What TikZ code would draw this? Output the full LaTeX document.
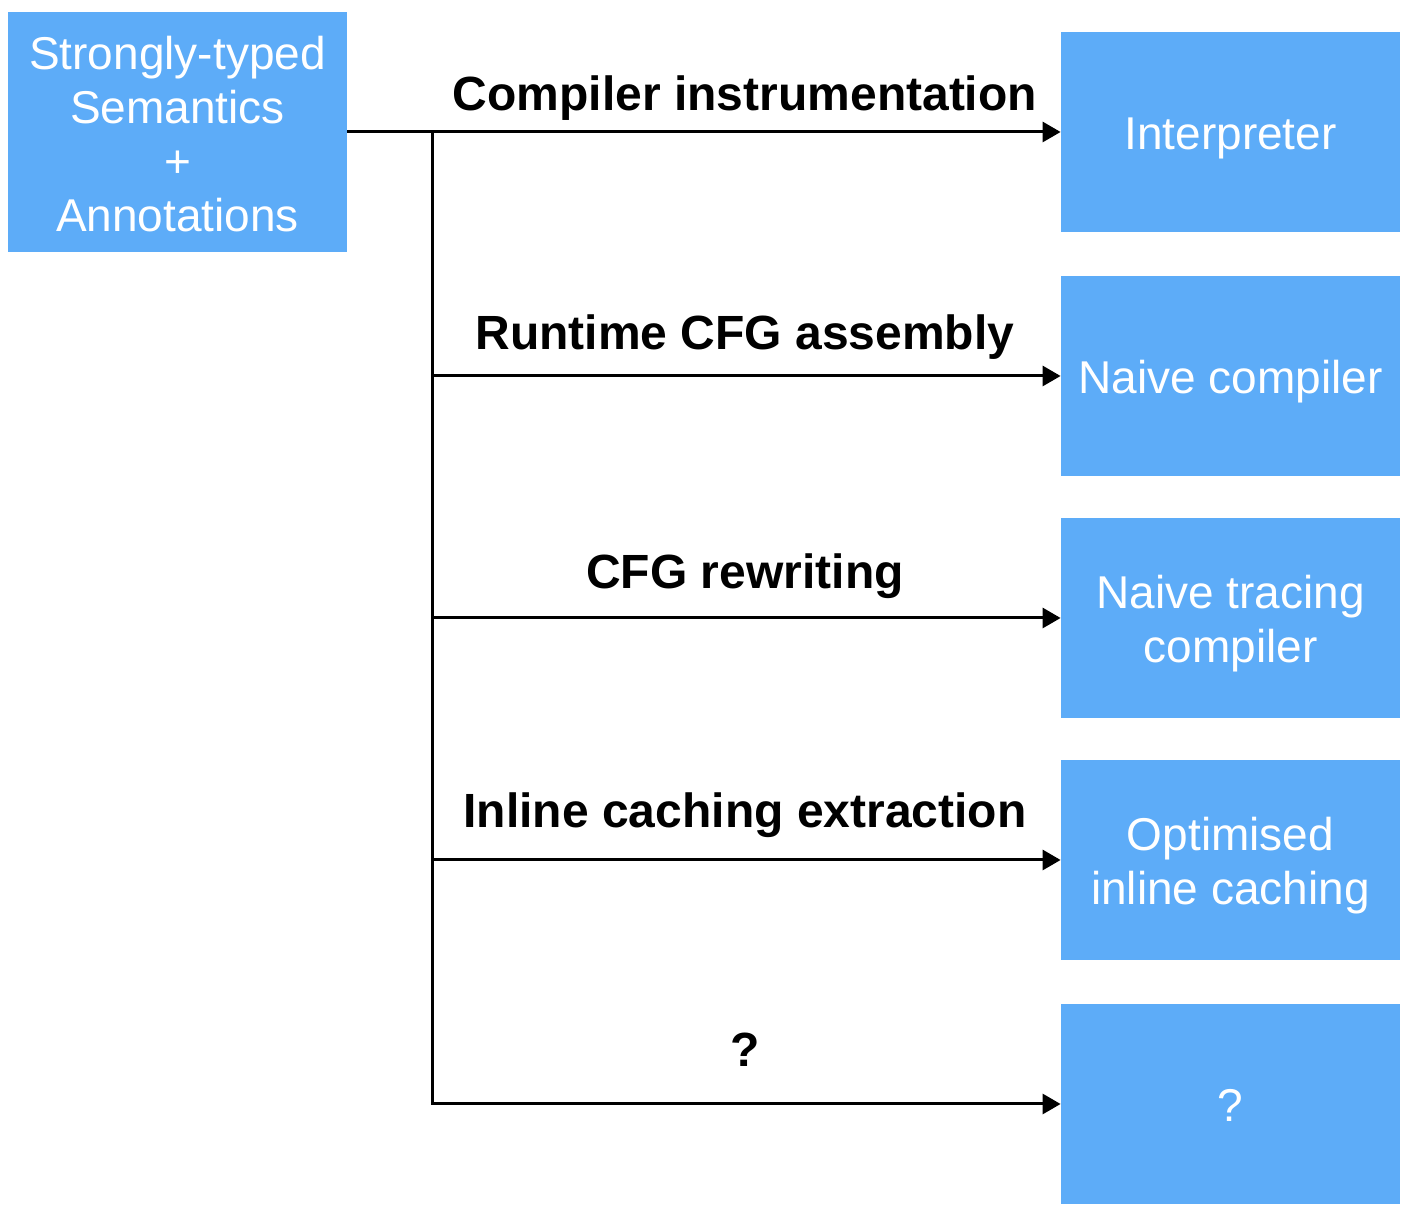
\documentclass[tikz,border=0pt]{standalone}
\usepackage{fontspec}
\setmainfont{Liberation Sans}
\usetikzlibrary{arrows.meta}
\definecolor{boxblue}{HTML}{5DACF8}
\tikzset{
  box/.style={fill=boxblue, text=white, inner sep=0pt, minimum width=169.5pt,
    align=center, font=\fontsize{23}{27}\selectfont},
  smallbox/.style={box, minimum height=100pt},
  bigbox/.style={box, minimum height=120pt},
  boxtext/.style={text=white, inner sep=0pt, align=center, font=\fontsize{23}{27}\selectfont, yshift=-3pt},
  lbl/.style={font=\fontsize{24}{28}\selectfont\bfseries, anchor=base, inner sep=0pt},
  conn/.style={line width=1.5pt, -{Triangle[length=9pt,width=10pt]}},
  wire/.style={line width=1.5pt}
}
\begin{document}
\begin{tikzpicture}[x=0.5pt,y=-0.5pt]
\useasboundingbox (0,0) rectangle (1410,1218);
\node[bigbox] (src) at (177.5,132) {};
\node[boxtext, yshift=2pt] (srctxt) at (src) {Strongly-typed\\Semantics\\+\\Annotations};
\node[smallbox] (t1) at (1230.5,132) {};
\node[smallbox] (t2) at (1230.5,376) {};
\node[smallbox] (t3) at (1230.5,618) {};
\node[smallbox] (t4) at (1230.5,860) {};
\node[smallbox] (t5) at (1230.5,1104) {};
\node[boxtext] (t1txt) at (t1) {Interpreter};
\node[boxtext] (t2txt) at (t2) {Naive compiler};
\node[boxtext] (t3txt) at (t3) {Naive tracing\\compiler};
\node[boxtext] (t4txt) at (t4) {Optimised\\inline caching};
\node[boxtext, yshift=2.5pt] (t5txt) at (t5) {?};
\coordinate (bus) at (432,132);
\coordinate (bend) at (432,1104);
\draw[conn] (src.east) -- (t1.west);
\draw[wire] (bus) -- (bend);
\draw[conn] (bus |- t2.west) -- (t2.west);
\draw[conn] (bus |- t3.west) -- (t3.west);
\draw[conn] (bus |- t4.west) -- (t4.west);
\draw[conn] (bus) |- (t5.west);
\node[lbl] (l1) at (745,111) {Compiler instrumentation};
\node[lbl] (l2) at (745,350) {Runtime CFG assembly};
\node[lbl] (l3) at (745,589) {CFG rewriting};
\node[lbl] (l4) at (745,828) {Inline caching extraction};
\node[lbl] (l5) at (745,1067) {?};
\end{tikzpicture}
\end{document}
